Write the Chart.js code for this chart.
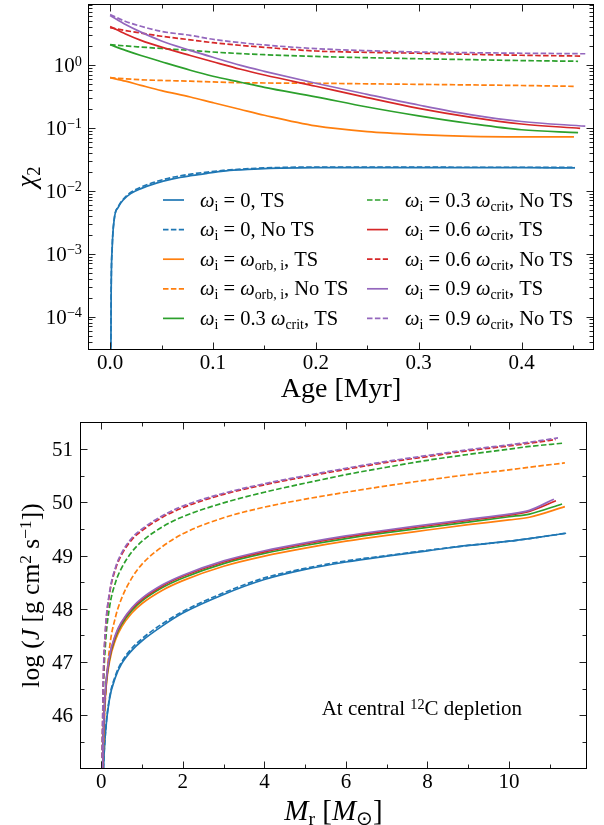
<!DOCTYPE html>
<html>
<head>
<meta charset="utf-8">
<script src="https://cdn.jsdelivr.net/npm/chart.js@4.4.1/dist/chart.umd.min.js"></script>
<style>
html,body{margin:0;padding:0;background:#fff;}
#wrap{position:relative;width:604px;height:825px;overflow:hidden;}
canvas{display:block;}
</style>
</head>
<body>
<div id="wrap">
  <canvas id="top" width="604" height="410"></canvas>
  <canvas id="bottom" width="604" height="415"></canvas>
</div>
<script>
// ---- top panel: chi_2 vs age ----
const ageTop = [0, 0.015, 0.03, 0.05, 0.078, 0.1, 0.127, 0.15, 0.2, 0.25, 0.3, 0.35, 0.4];
const ageBlue = [0, 0.0005, 0.001, 0.002, 0.004, 0.008, 0.013, 0.02, 0.03, 0.045, 0.062, 0.08, 0.095, 0.11, 0.127, 0.15, 0.2, 0.25, 0.3, 0.35, 0.4, 0.452];
const endAge = [0.452, 0.452, 0.451, 0.452, 0.455, 0.455, 0.457, 0.457, 0.462, 0.462];

const chiBlueTS    = [1e-7, 2e-6, 2e-4, 1.2e-3, 3.5e-3, 5.5e-3, 7.2e-3, 9e-3, 0.0108, 0.0132, 0.0156, 0.0175, 0.019, 0.0205, 0.0215, 0.0225, 0.0232, 0.0233, 0.0233, 0.0232, 0.0232, 0.023];
const chiBlueNoTS  = [1e-7, 2e-6, 2e-4, 1.2e-3, 3.5e-3, 5.6e-3, 7.4e-3, 9.4e-3, 0.0114, 0.014, 0.0165, 0.0185, 0.0198, 0.021, 0.022, 0.023, 0.0238, 0.0238, 0.0237, 0.0236, 0.0236, 0.0235];
const chiOrbTS     = [0.625, 0.55, 0.473, 0.389, 0.309, 0.251, 0.195, 0.158, 0.107, 0.087, 0.078, 0.073, 0.0716, 0.0715];
const chiOrbNoTS   = [0.625, 0.6, 0.58, 0.565, 0.55, 0.535, 0.52, 0.515, 0.51, 0.5, 0.49, 0.48, 0.47, 0.455];
const chi03TS      = [2.09, 1.7, 1.41, 1.12, 0.82, 0.66, 0.53, 0.44, 0.31, 0.214, 0.155, 0.117, 0.093, 0.084];
const chi03NoTS    = [2.09, 2.0, 1.92, 1.82, 1.7, 1.6, 1.51, 1.45, 1.36, 1.3, 1.25, 1.21, 1.17, 1.14];
const chi06TS      = [4.07, 3.09, 2.45, 1.91, 1.41, 1.12, 0.85, 0.69, 0.457, 0.302, 0.204, 0.148, 0.115, 0.098];
const chi06NoTS    = [3.9, 3.5, 3.2, 2.85, 2.5, 2.25, 2.04, 1.9, 1.66, 1.58, 1.53, 1.47, 1.42, 1.38];
const chi09TS      = [6.1, 4.37, 3.31, 2.4, 1.7, 1.32, 0.98, 0.79, 0.51, 0.34, 0.23, 0.162, 0.126, 0.106];
const chi09NoTS    = [6.3, 4.9, 4.1, 3.4, 2.94, 2.55, 2.25, 2.07, 1.81, 1.68, 1.6, 1.56, 1.53, 1.5];

// ---- bottom panel: log J vs M_r ----
const massGrid = [0.02, 0.05, 0.1, 0.2, 0.35, 0.5, 0.75, 1.0, 1.5, 2, 3, 4, 5, 6, 7, 8, 9, 10, 10.5];
const endMass = [11.4, 11.4, 11.37, 11.37, 11.3, 11.3, 11.15, 11.15, 11.1, 11.2];

const jBlueTS   = [43.8, 44.9, 45.65, 46.3, 46.72, 46.97, 47.22, 47.4, 47.68, 47.92, 48.27, 48.55, 48.74, 48.88, 48.99, 49.09, 49.19, 49.27, 49.32, 49.42];
const jBlueNoTS = [43.8, 44.9, 45.65, 46.32, 46.75, 47.0, 47.26, 47.44, 47.72, 47.95, 48.3, 48.58, 48.76, 48.9, 49.0, 49.1, 49.19, 49.27, 49.32, 49.42];
const jOrbTS    = [44.2, 45.5, 46.35, 47.0, 47.42, 47.66, 47.92, 48.1, 48.35, 48.53, 48.8, 48.99, 49.14, 49.27, 49.38, 49.48, 49.58, 49.67, 49.72, 49.92];
const jOrbNoTS  = [44.0, 45.3, 46.3, 47.25, 47.85, 48.2, 48.58, 48.84, 49.17, 49.41, 49.71, 49.91, 50.06, 50.19, 50.31, 50.42, 50.52, 50.61, 50.66, 50.74];
const j03TS     = [44.25, 45.55, 46.4, 47.05, 47.47, 47.71, 47.97, 48.15, 48.4, 48.58, 48.85, 49.04, 49.19, 49.32, 49.43, 49.53, 49.63, 49.73, 49.78, 49.97];
const j03NoTS   = [44.9, 46.4, 47.3, 48.02, 48.5, 48.77, 49.07, 49.27, 49.54, 49.73, 49.99, 50.19, 50.36, 50.52, 50.66, 50.79, 50.9, 51.0, 51.05, 51.11];
const j06TS     = [44.3, 45.6, 46.43, 47.08, 47.5, 47.74, 48.0, 48.18, 48.43, 48.61, 48.88, 49.07, 49.22, 49.35, 49.46, 49.56, 49.66, 49.76, 49.83, 50.03];
const j06NoTS   = [45.2, 46.65, 47.56, 48.27, 48.75, 49.02, 49.3, 49.47, 49.72, 49.9, 50.15, 50.33, 50.48, 50.62, 50.75, 50.86, 50.97, 51.06, 51.11, 51.18];
const j09TS     = [44.3, 45.6, 46.45, 47.1, 47.52, 47.76, 48.02, 48.2, 48.45, 48.63, 48.9, 49.09, 49.24, 49.37, 49.48, 49.58, 49.68, 49.78, 49.85, 50.06];
const j09NoTS   = [45.2, 46.7, 47.6, 48.3, 48.78, 49.05, 49.33, 49.5, 49.75, 49.93, 50.17, 50.35, 50.5, 50.64, 50.77, 50.88, 50.99, 51.08, 51.13, 51.21];

// ---- ticks ----
const xTopMajor = [0, 0.1, 0.2, 0.3, 0.4];
const xTopMinor = [0.05, 0.15, 0.25, 0.35, 0.45];
const xTopTickText = ['0.0', '0.1', '0.2', '0.3', '0.4'];
const yTopMajor = [1e-4, 1e-3, 1e-2, 1e-1, 1];
const yTopExp = ['\u22124', '\u22123', '\u22122', '\u22121', '0'];
const xBotMajor = [0, 2, 4, 6, 8, 10];
const xBotMinor = [1, 3, 5, 7, 9, 11];
const xBotTickText = ['0', '2', '4', '6', '8', '10'];
const yBotMajor = [46, 47, 48, 49, 50, 51];
const yBotMinor = [45.5, 46.5, 47.5, 48.5, 49.5, 50.5];
const yBotTickText = ['46', '47', '48', '49', '50', '51'];

const colors = ['#1f77b4', '#ff7f0e', '#2ca02c', '#d62728', '#9467bd'];
const SERIF = '"Liberation Serif", "Times New Roman", serif';

// rich text segments
const R = t => ({t, k: 'r'}), I = t => ({t, k: 'it'}), D = t => ({t, k: 'sub'}), U = t => ({t, k: 'sup'});
const om = [I('\u03c9'), D('i')];
const legendText = [
  [...om, R(' = 0, TS')],
  [...om, R(' = 0, No TS')],
  [...om, R(' = '), I('\u03c9'), D('orb, i'), R(', TS')],
  [...om, R(' = '), I('\u03c9'), D('orb, i'), R(', No TS')],
  [...om, R(' = 0.3 '), I('\u03c9'), D('crit'), R(', TS')],
  [...om, R(' = 0.3 '), I('\u03c9'), D('crit'), R(', No TS')],
  [...om, R(' = 0.6 '), I('\u03c9'), D('crit'), R(', TS')],
  [...om, R(' = 0.6 '), I('\u03c9'), D('crit'), R(', No TS')],
  [...om, R(' = 0.9 '), I('\u03c9'), D('crit'), R(', TS')],
  [...om, R(' = 0.9 '), I('\u03c9'), D('crit'), R(', No TS')]
];

function richText(ctx, segs, x, y, size, align){
  const parts = segs.map(s => {
    const small = s.k === 'sub' || s.k === 'sup';
    const font = (s.k === 'it' ? 'italic ' : '') + (small ? size * 0.68 : size) + 'px ' + SERIF;
    ctx.font = font;
    return {t: s.t, font, w: ctx.measureText(s.t).width,
      dy: s.k === 'sub' ? size * 0.2 : s.k === 'sup' ? -size * 0.3 : 0};
  });
  const total = parts.reduce((a, p) => a + p.w, 0);
  let cx = align === 'center' ? x - total / 2 : align === 'right' ? x - total : x;
  ctx.textAlign = 'left';
  ctx.textBaseline = 'alphabetic';
  parts.forEach(p => { ctx.font = p.font; ctx.fillText(p.t, cx, y + p.dy); cx += p.w; });
}

function pts(xs, ys){ return ys.map((y, i) => ({x: xs[i], y})); }

function makeSets(list){
  return list.map((s, i) => ({
    data: pts(s[0], s[1]),
    borderColor: colors[s[2]],
    borderWidth: 1.7,
    borderDash: s[3] ? [5.5, 2.4] : [],
    pointRadius: 0,
    fill: false,
    cubicInterpolationMode: 'monotone',
    order: 20 - i
  }));
}

function framePlugin(cfg){
  return {
    id: 'frame',
    afterDraw(chart){
      const ctx = chart.ctx, a = chart.chartArea;
      const sx = chart.scales.x, sy = chart.scales.y;
      ctx.save();
      ctx.strokeStyle = '#222';
      ctx.lineWidth = 1;
      ctx.beginPath();
      const xt = (v, len) => {
        const p = Math.round(sx.getPixelForValue(v)) + 0.5;
        if (p <= a.left || p >= a.right) return;
        ctx.moveTo(p, a.bottom); ctx.lineTo(p, a.bottom - len);
        ctx.moveTo(p, a.top); ctx.lineTo(p, a.top + len);
      };
      const yt = (v, len) => {
        const p = Math.round(sy.getPixelForValue(v)) + 0.5;
        if (p <= a.top || p >= a.bottom) return;
        ctx.moveTo(a.left, p); ctx.lineTo(a.left + len, p);
        ctx.moveTo(a.right, p); ctx.lineTo(a.right - len, p);
      };
      cfg.xMajor.forEach(v => xt(v, 7));
      cfg.xMinor.forEach(v => xt(v, 4));
      cfg.yMajor.forEach(v => yt(v, 7));
      cfg.yMinor.forEach(v => yt(v, 4));
      ctx.stroke();
      ctx.strokeStyle = '#000';
      ctx.strokeRect(a.left, a.top, a.right - a.left, a.bottom - a.top);

      ctx.fillStyle = '#000';
      cfg.xMajor.forEach((v, i) => richText(ctx, cfg.xLabels[i], sx.getPixelForValue(v), a.bottom + cfg.xGap, 21, 'center'));
      cfg.yMajor.forEach((v, i) => richText(ctx, cfg.yLabels[i], a.left - cfg.yGap, sy.getPixelForValue(v) + 7, 21, 'right'));

      richText(ctx, cfg.xTitle, (a.left + a.right) / 2, cfg.xTitleY, cfg.xTitleSize, 'center');
      ctx.save();
      ctx.translate(cfg.yTitleX, (a.top + a.bottom) / 2);
      ctx.rotate(-Math.PI / 2);
      richText(ctx, cfg.yTitle, 0, 0, cfg.yTitleSize, 'center');
      ctx.restore();
      if (cfg.extra) cfg.extra(ctx, chart);
      ctx.restore();
    }
  };
}

function drawLegend(ctx, chart){
  const rows = [200, 229.6, 259.2, 288.8, 318.4];
  const lineX = [163, 367], textX = [200, 405];
  chart.data.datasets.forEach((ds, i) => {
    const col = i < 5 ? 0 : 1, y = rows[i % 5];
    ctx.save();
    ctx.strokeStyle = ds.borderColor;
    ctx.lineWidth = ds.borderWidth;
    ctx.setLineDash(ds.borderDash);
    ctx.beginPath();
    ctx.moveTo(lineX[col], y); ctx.lineTo(lineX[col] + 21, y);
    ctx.stroke();
    ctx.restore();
    ctx.fillStyle = '#000';
    richText(ctx, legendText[i], textX[col], y + 6.5, 20.5, 'left');
  });
}

function baseOptions(pad, xScale, yScale, w, h){
  return {
    responsive: false,
    animation: false,
    devicePixelRatio: 1,
    layout: {padding: pad},
    plugins: {legend: {display: false}, tooltip: {enabled: false}},
    scales: {
      x: Object.assign({grid: {display: false}, border: {display: false}, ticks: {display: false},
        afterFit: s => { s.height = h; }}, xScale),
      y: Object.assign({grid: {display: false}, border: {display: false}, ticks: {display: false},
        afterFit: s => { s.width = w; }}, yScale)
    }
  };
}

const blueList = [
  [ageBlue, chiBlueTS, 0, false],
  [ageBlue, chiBlueNoTS, 0, true]
];
const topRest = [chiOrbTS, chiOrbNoTS, chi03TS, chi03NoTS, chi06TS, chi06NoTS, chi09TS, chi09NoTS];
const topList = blueList.concat(topRest.map((v, k) => [ageTop.concat(endAge[k + 2]), v, 1 + Math.floor(k / 2), k % 2 === 1]));

const botVals = [jBlueTS, jBlueNoTS, jOrbTS, jOrbNoTS, j03TS, j03NoTS, j06TS, j06NoTS, j09TS, j09NoTS];
const botList = botVals.map((v, k) => [massGrid.concat(endMass[k]), v, Math.floor(k / 2), k % 2 === 1]);

new Chart(document.getElementById('top'), {
  type: 'line',
  data: {datasets: makeSets(topList)},
  options: baseOptions({left: 0, right: 10.5, top: 4.5, bottom: 0},
    {type: 'linear', min: -0.021, max: 0.47},
    {type: 'logarithmic', min: 3.0e-5, max: 9.1}, 88.5, 60.5),
  plugins: [framePlugin({
    xMajor: xTopMajor, xMinor: xTopMinor,
    yMajor: yTopMajor,
    yMinor: [-5, -4, -3, -2, -1, 0].flatMap(e => [2, 3, 4, 5, 6, 7, 8, 9].map(m => m * Math.pow(10, e))),
    xLabels: xTopTickText.map(t => [R(t)]),
    yLabels: yTopExp.map(e => [R('10'), U(e)]),
    xGap: 19.8, yGap: 6.5,
    xTitle: [R('Age [Myr]')], xTitleY: 396.5, xTitleSize: 28,
    yTitle: [I('\u03c7'), D('2')], yTitleX: 35, yTitleSize: 27,
    extra: drawLegend
  })]
});

new Chart(document.getElementById('bottom'), {
  type: 'line',
  data: {datasets: makeSets(botList)},
  options: baseOptions({left: 0, right: 17.5, top: 12.5, bottom: 0},
    {type: 'linear', min: -0.51, max: 11.9},
    {type: 'linear', min: 45.0, max: 51.5}, 80.5, 56.5),
  plugins: [framePlugin({
    xMajor: xBotMajor, xMinor: xBotMinor,
    yMajor: yBotMajor, yMinor: yBotMinor,
    xLabels: xBotTickText.map(t => [R(t)]),
    yLabels: yBotTickText.map(t => [R(t)]),
    xGap: 19.5, yGap: 7.5,
    xTitle: [I('M'), D('r'), R(' ['), I('M'), D('\u2299'), R(']')], xTitleY: 409.5, xTitleSize: 29,
    yTitle: [R('log ('), I('J'), R(' [g cm'), U('2'), R(' s'), U('\u22121'), R('])')],
    yTitleX: 39, yTitleSize: 25.5,
    extra: ctx => richText(ctx, [R('At central '), U('12'), R('C depletion')], 321.7, 305, 21, 'left')
  })]
});
</script>
</body>
</html>
